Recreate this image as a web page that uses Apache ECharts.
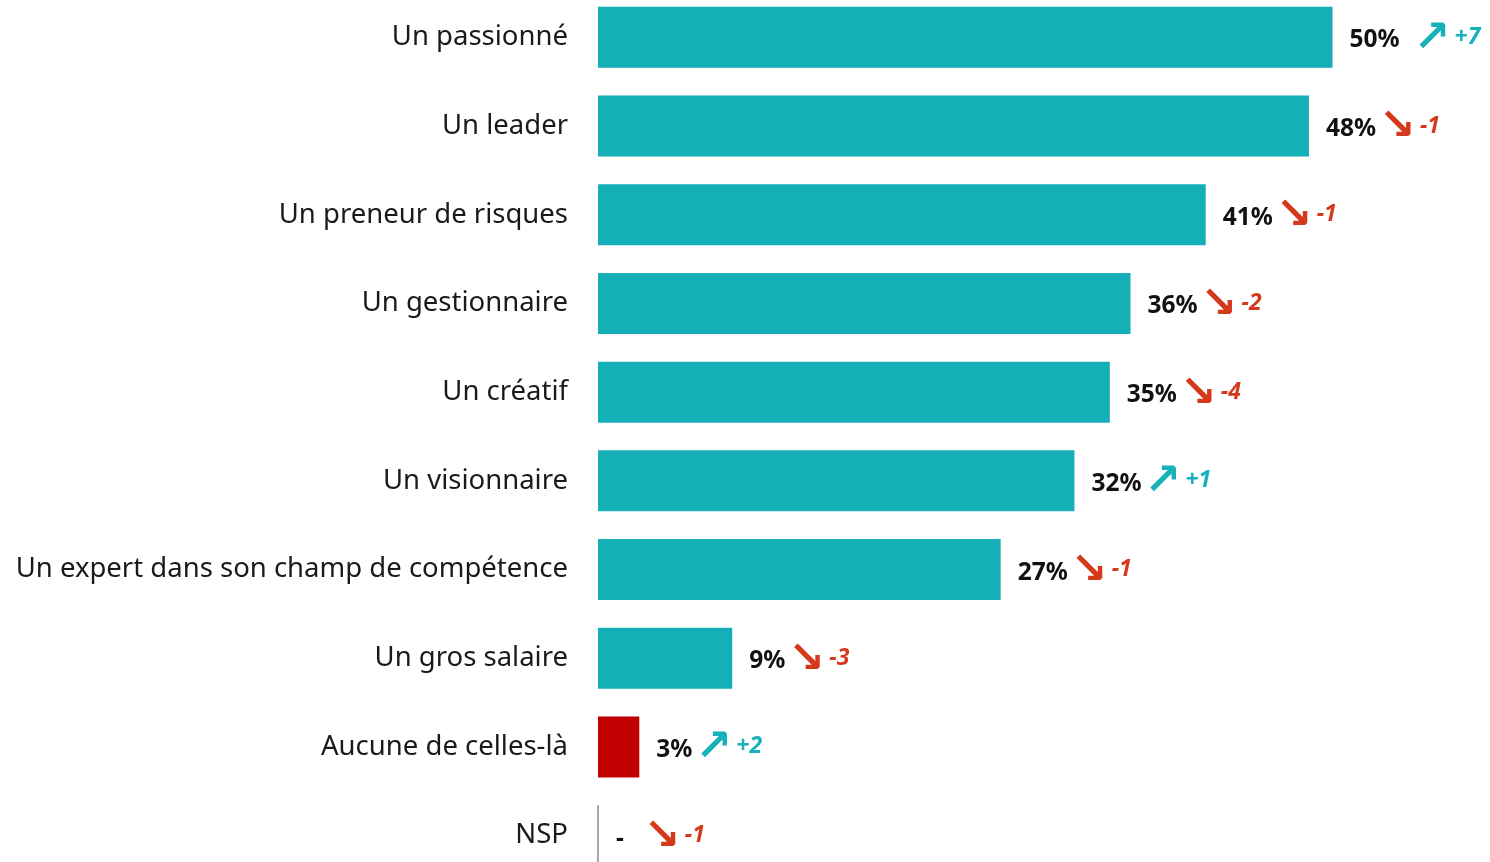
<!DOCTYPE html>
<html>
<head>
<meta charset="utf-8">
<script src="https://cdn.jsdelivr.net/npm/echarts@6/dist/echarts.min.js"></script>
<style>html,body{margin:0;padding:0;background:#fff;}#c{width:1490px;height:862px;}</style>
</head>
<body>
<div id="c"></div>
<script>
const categories = ["Un passionné","Un leader","Un preneur de risques","Un gestionnaire","Un créatif","Un visionnaire","Un expert dans son champ de compétence","Un gros salaire","Aucune de celles-là","NSP"];
const values = [49.8, 48.2, 41.2, 36.1, 34.7, 32.3, 27.3, 9.1, 2.8, 0];
const valueLabels = ["50%","48%","41%","36%","35%","32%","27%","9%","3%","-"];
const changes = [7, -1, -1, -2, -4, 1, -1, -3, 2, -1];

const TEAL = '#14AFB7', RED = '#C00000', UP = '#17B1BA', DOWN = '#D5391B';

const chart = echarts.init(document.getElementById('c'));
const data = values.map((v, i) => {
  const item = { value: v, itemStyle: { color: i === 8 ? RED : TEAL } };
  if (v === 0) item.itemStyle = { color: '#A6A6A6', borderColor: '#A6A6A6', borderWidth: 2 };
  return item;
});
chart.setOption({
  animation: false,
  grid: { left: 598, top: -7, width: 885, height: 887, outerBoundsMode: 'none', containLabel: false },
  xAxis: { type: 'value', min: 0, max: 60, show: false, splitLine: { show: false } },
  yAxis: {
    type: 'category', data: categories, inverse: true,
    axisLine: { show: false },
    axisTick: { show: false },
    axisLabel: { margin: 30, fontFamily: 'Noto Sans', fontSize: 27.5, color: '#1a1a1a' }
  },
  series: [{
    type: 'bar', data: data, barWidth: 61,
    label: {
      show: true, position: 'right', distance: 17,
      formatter: p => {
        const c = changes[p.dataIndex];
        const up = c > 0;
        const sp = p.dataIndex === 0 ? 'spl' : (p.dataIndex === 9 ? 'spx' : 'sp');
        return '{v|' + valueLabels[p.dataIndex] + '}{' + sp + '|}{' + (up ? 'au' : 'ad') + '|' + (up ? '↗' : '↘') + '}{' + (up ? 'cu' : 'cd') + '|' + (up ? '+' + c : String(c)) + '}';
      },
      rich: {
        v: { fontFamily: 'Noto Sans', fontWeight: 'bold', fontSize: 24.5, color: '#111', padding: [6,0,0,0] },
        sp: { width: 3 },
        spl: { width: 14 },
        spx: { width: 20 },
        au: { fontFamily: 'DejaVu Sans', fontWeight: 'bold', fontSize: 44, color: UP, padding: [4,0,0,0] },
        ad: { fontFamily: 'DejaVu Sans', fontWeight: 'bold', fontSize: 44, color: DOWN, padding: [4,0,0,0] },
        cu: { fontFamily: 'Noto Sans', fontWeight: 'bold', fontStyle: 'italic', fontSize: 23, color: UP, padding: [0,0,0,4] },
        cd: { fontFamily: 'Noto Sans', fontWeight: 'bold', fontStyle: 'italic', fontSize: 23, color: DOWN, padding: [0,0,0,4] }
      }
    }
  }]
});
</script>
</body>
</html>
